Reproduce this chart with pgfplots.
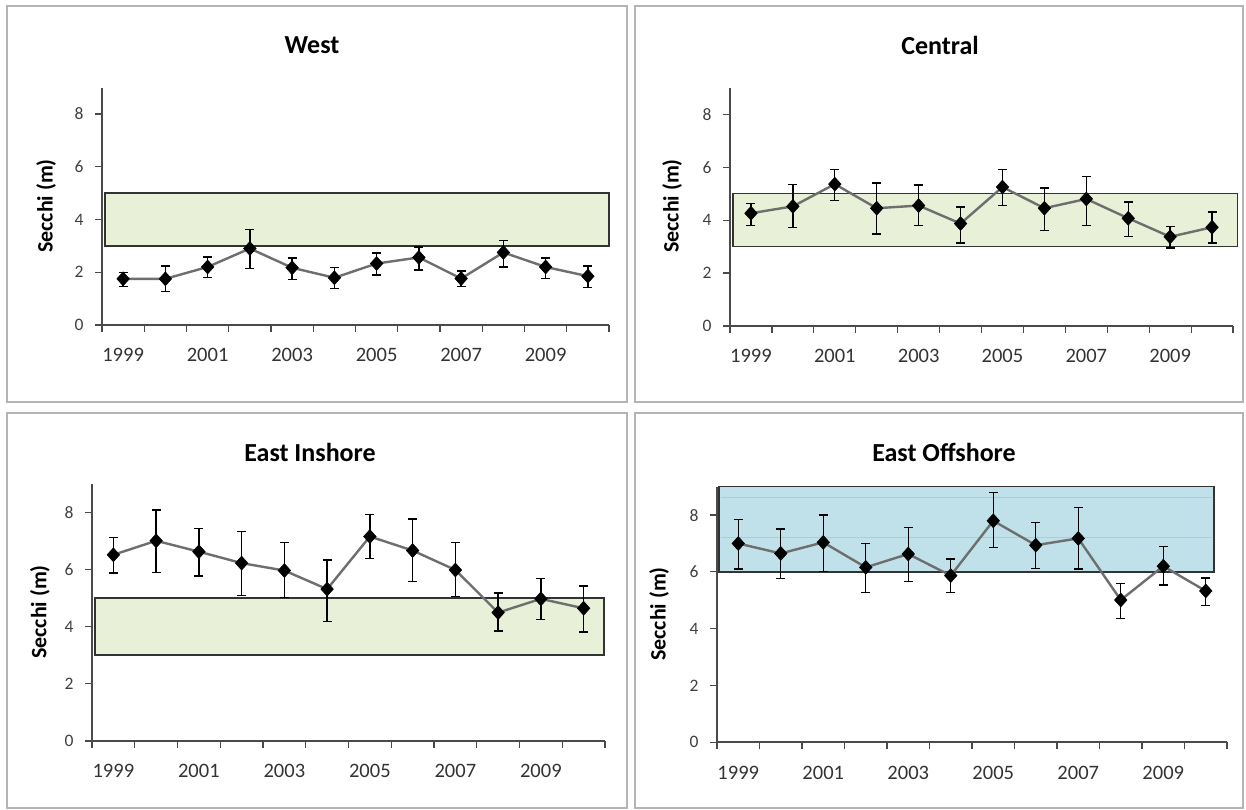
\documentclass[border=0pt]{standalone}
\usepackage{fontspec}
\setmainfont{Carlito}
\usepackage{pgfplots}
\usepackage{pgfplotstable}
\pgfplotsset{compat=1.18}

\definecolor{axisgray}{HTML}{4A4A4A}
\definecolor{linegray}{HTML}{6E6E6E}
\definecolor{framegray}{HTML}{B4B4B4}
\definecolor{bandgreen}{HTML}{E8F0D8}
\definecolor{bandblue}{HTML}{C0E1EA}
\definecolor{bandblueline}{HTML}{9ED2E2}

% columns: year index, mean Secchi depth, upper and lower bound
\pgfplotstableread{
x y hi lo
1 1.75 1.98 1.47
2 1.75 2.24 1.26
3 2.20 2.58 1.79
4 2.90 3.61 2.14
5 2.17 2.54 1.73
6 1.79 2.17 1.39
7 2.33 2.73 1.89
8 2.56 2.96 2.08
9 1.76 2.05 1.45
10 2.75 3.21 2.20
11 2.20 2.54 1.76
12 1.85 2.24 1.42
}\west

\pgfplotstableread{
x y hi lo
1 4.26 4.62 3.79
2 4.52 5.34 3.72
3 5.36 5.90 4.75
4 4.45 5.40 3.48
5 4.55 5.33 3.79
6 3.87 4.50 3.14
7 5.25 5.90 4.56
8 4.45 5.21 3.62
9 4.80 5.64 3.79
10 4.07 4.69 3.37
11 3.37 3.77 2.95
12 3.73 4.31 3.14
}\central

\pgfplotstableread{
x y hi lo
1 6.51 7.11 5.87
2 7.00 8.08 5.89
3 6.62 7.44 5.77
4 6.22 7.32 5.08
5 5.96 6.94 5.01
6 5.31 6.33 4.17
7 7.15 7.93 6.37
8 6.66 7.76 5.57
9 5.98 6.94 5.05
10 4.49 5.17 3.85
11 4.97 5.69 4.24
12 4.64 5.42 3.81
}\eastin

\pgfplotstableread{
x y hi lo
1 7.00 7.85 6.10
2 6.65 7.51 5.77
3 7.04 8.00 6.02
4 6.16 7.00 5.28
5 6.63 7.57 5.65
6 5.87 6.45 5.28
7 7.80 8.79 6.86
8 6.94 7.73 6.12
9 7.18 8.27 6.10
10 5.01 5.60 4.36
11 6.20 6.89 5.54
12 5.33 5.79 4.81
}\eastoff

\pgfplotsset{
  secchi/.style={
    scale only axis,
    anchor=south west,
    axis x line*=bottom,
    axis y line*=left,
    every outer x axis line/.append style={-},
    every outer y axis line/.append style={-},
    every inner x axis line/.append style={-},
    every inner y axis line/.append style={-},
    xmin=0.5, xmax=12.5, ymin=0, ymax=9,
    ytick={0,2,4,6,8},
    xtick={0.5,1.5,...,12.5},
    xticklabels={},
    extra x ticks={1,3,5,7,9,11},
    extra x tick labels={1999,2001,2003,2005,2007,2009},
    extra x tick style={major tick length=0pt},
    tick align=outside,
    major tick length=7pt,
    axis line style={line width=1.6pt, color=axisgray},
    tick style={line width=1.2pt, color=axisgray},
    /pgf/number format/assume math mode=true,
    yticklabel style={font=\fontsize{17.5}{19}\selectfont, text=black!75, xshift=-8pt},
    xticklabel style={font=\fontsize{20.5}{22}\selectfont, text=black!80, yshift=-20pt},
    clip=false,
  },
  band/.style={draw=black!80, line width=1.4pt},
  series/.style={
    color=linegray, line width=2.4pt,
    mark=diamond*, mark size=7pt,
    mark options={fill=black, draw=black, line width=0.5pt, xscale=1.2},
    error bars/.cd,
      y dir=both, y explicit,
      error bar style={black, line width=1.3pt},
      error mark options={rotate=90, mark size=4.5pt, black, line width=1.3pt},
  },
}

\newcommand{\panelframe}[4]{%
  \draw[framegray, line width=1.5pt] (#1pt,#2pt) rectangle (#3pt,#4pt);}

\begin{document}
\begin{tikzpicture}[x=1pt, y=1pt]
\path[use as bounding box, fill=white] (0,0) rectangle (1246,810);

% panel frames
\panelframe{7}{408}{627}{804}
\panelframe{635}{408}{1243}{804}
\panelframe{7}{2}{627}{397}
\panelframe{635}{2}{1243}{397}

% titles
\node[font=\fontsize{26}{28}\selectfont\bfseries] at (312,765) {West};
\node[font=\fontsize{26}{28}\selectfont\bfseries] at (940,765) {Central};
\node[font=\fontsize{26}{28}\selectfont\bfseries] at (310,358) {East Inshore};
\node[font=\fontsize{26}{28}\selectfont\bfseries] at (944,358) {East Offshore};

% y labels
\node[rotate=90, font=\fontsize{22}{24}\selectfont\bfseries] at (46,604) {Secchi (m)};
\node[rotate=90, font=\fontsize{22}{24}\selectfont\bfseries] at (672,604) {Secchi (m)};
\node[rotate=90, font=\fontsize{22}{24}\selectfont\bfseries] at (40,198) {Secchi (m)};
\node[rotate=90, font=\fontsize{22}{24}\selectfont\bfseries] at (659,196) {Secchi (m)};

% West
\begin{axis}[secchi, at={(102pt,485pt)}, width=507pt, height=237.4pt]
  \addplot[band, fill=bandgreen] coordinates {(0.57,3) (12.5,3) (12.5,5) (0.57,5)} -- cycle;
  \addplot[series] table[x=x, y=y,
    y error plus expr=\thisrow{hi}-\thisrow{y},
    y error minus expr=\thisrow{y}-\thisrow{lo}] {\west};
\end{axis}

% Central
\begin{axis}[secchi, at={(730pt,484pt)}, width=503pt, height=238.2pt]
  \addplot[band, fill=bandgreen] coordinates {(0.57,3) (12.6,3) (12.6,5) (0.57,5)} -- cycle;
  \addplot[series] table[x=x, y=y,
    y error plus expr=\thisrow{hi}-\thisrow{y},
    y error minus expr=\thisrow{y}-\thisrow{lo}] {\central};
\end{axis}

% East Inshore
\begin{axis}[secchi, at={(92pt,69pt)}, width=513pt, height=257.4pt]
  \addplot[band, fill=bandgreen] coordinates {(0.57,3) (12.48,3) (12.48,5) (0.57,5)} -- cycle;
  \addplot[series] table[x=x, y=y,
    y error plus expr=\thisrow{hi}-\thisrow{y},
    y error minus expr=\thisrow{y}-\thisrow{lo}] {\eastin};
\end{axis}

% East Offshore
\begin{axis}[secchi, at={(717pt,67.7pt)}, width=510pt, height=255.6pt]
  \addplot[band, fill=bandblue] coordinates {(0.55,6) (12.19,6) (12.19,9) (0.55,9)} -- cycle;
  \addplot[bandblueline, line width=0.8pt] coordinates {(0.6,8.64) (12.15,8.64)};
  \addplot[bandblueline, line width=0.8pt] coordinates {(0.6,7.21) (12.15,7.21)};
  \addplot[series] table[x=x, y=y,
    y error plus expr=\thisrow{hi}-\thisrow{y},
    y error minus expr=\thisrow{y}-\thisrow{lo}] {\eastoff};
\end{axis}
\end{tikzpicture}
\end{document}
